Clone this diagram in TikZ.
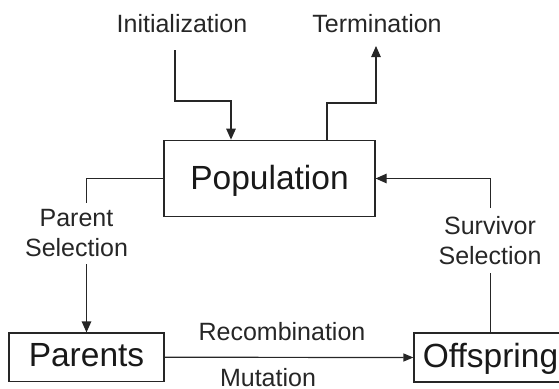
\documentclass[tikz,border=0pt]{standalone}
\usepackage{fontspec}
\setmainfont{Liberation Sans}
\usetikzlibrary{arrows.meta}
\begin{document}
\begin{tikzpicture}[x=1pt,y=-1pt]
\tikzset{
  lab/.style={font=\fontsize{25}{30}\selectfont, inner sep=0pt, align=center, text=black!85},
  box/.style={draw=black!85, line width=1.2pt, rectangle, inner sep=0pt, text=black!90, font=\fontsize{33.5}{40}\selectfont},
  conn/.style={draw=black!85, line width=1.2pt},
  arr/.style={conn, -{Triangle[length=11pt,width=9.5pt]}},
  arrs/.style={conn, -{Triangle[length=10pt,width=8pt]}}
}
\useasboundingbox (0,0) rectangle (559,388);
\clip (0,0) rectangle (559,388);

\node[box, minimum width=211pt, minimum height=76.5pt, text height=24pt, text depth=3pt] (pop) at (269.5,178.5) {Population};
\node[box, minimum width=155pt, minimum height=48.5pt, text height=22pt, text depth=4.5pt] (par) at (86.5,357.25) {Parents};
\node[box, minimum width=153pt, minimum height=49pt, text height=23pt, text depth=4pt] (off) at (490.5,357.5) {Offspring};

\node[lab, anchor=base] (init) at (182,32) {Initialization};
\node[lab, anchor=base] (term) at (377,32) {Termination};
\node[lab, anchor=base] (psel) at (76.5,256) {Parent\\Selection};
\node[lab, anchor=base] (ssel) at (490,264) {Survivor\\Selection};
\node[lab, anchor=base] (rec) at (282,340) {Recombination};
\node[lab, anchor=base] (mut) at (268,386.5) {Mutation};

\coordinate (i0) at (175,50);
\coordinate (i1) at (231,101);
\draw[arr] (i0) |- (i1) -- (i1 |- pop.north);

\coordinate (t0) at (327,103);
\coordinate (t1) at (376,46);
\draw[arr] (t0 |- pop.north) -- (t0) -| (t1);

\coordinate (p0) at (86.5,203);
\coordinate (p1) at (86.5,264);
\draw[conn] (pop.west) -| (p0);
\draw[arr] (p1) -- (par.north);

\coordinate (s0) at (490.5,273);
\coordinate (s1) at (490.5,208);
\draw[conn] (off.north) -- (s0);
\draw[arr] (s1) |- (pop.east);

\draw[arrs] (par.east) -- (off.west);
\end{tikzpicture}
\end{document}
